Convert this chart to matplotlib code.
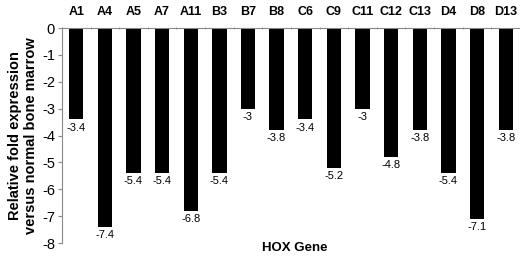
import numpy as np
import matplotlib.pyplot as plt

plt.rcParams['font.family'] = ['Liberation Sans', 'DejaVu Sans']
plt.rcParams['axes.unicode_minus'] = False

# HOX genes and their relative fold expression
genes = ['A1', 'A4', 'A5', 'A7', 'A11', 'B3', 'B7', 'B8',
         'C6', 'C9', 'C11', 'C12', 'C13', 'D4', 'D8', 'D13']
fold = [-3.4, -7.4, -5.4, -5.4, -6.8, -5.4, -3, -3.8,
        -3.4, -5.2, -3, -4.8, -3.8, -5.4, -7.1, -3.8]

fig = plt.figure(figsize=(5.2, 2.57), dpi=100)
ax = fig.add_axes([0.119, 0.054, 0.881, 0.837])

x = np.arange(len(genes))
ax.bar(x, fold, width=0.5, color='black')

for xi, v in zip(x, fold):
    ax.text(xi, v - 0.12, f"{v:g}", ha='center', va='top', fontsize=8)

ax.set_xlim(-0.5, len(genes) - 0.5)
ax.set_ylim(-8, 0)
ax.set_yticks(range(-8, 1))
ax.tick_params(axis='y', labelsize=10.5, length=3, color='#888888', pad=2)

ax.xaxis.tick_top()
ax.set_xticks(x)
ax.set_xticklabels(genes, fontweight='bold', fontsize=9)
ax.set_xticks(np.arange(-0.5, len(genes)), minor=True)
ax.tick_params(axis='x', which='major', length=0, pad=7)
ax.tick_params(axis='x', which='minor', length=2, color='#888888', direction='inout')

for s in ['bottom', 'right']:
    ax.spines[s].set_visible(False)
for s in ['top', 'left']:
    ax.spines[s].set_color('#888888')
    ax.spines[s].set_linewidth(0.8)

ax.set_ylabel('Relative fold expression\nversus normal bone marrow',
              fontweight='bold', fontsize=10.5, labelpad=3, linespacing=1.15)
fig.text(0.567, 0.035, 'HOX Gene', ha='center', va='center',
         fontweight='bold', fontsize=9.5)

fig.savefig('out.png', dpi=100)
